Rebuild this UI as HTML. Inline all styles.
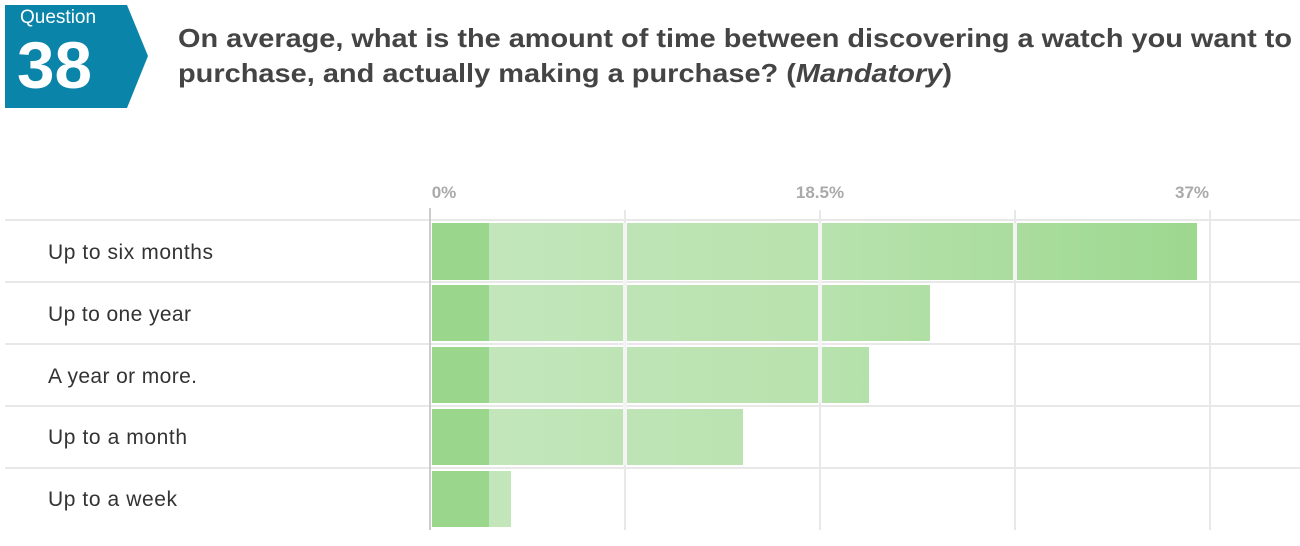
<!DOCTYPE html><html><head><style>body{margin:0;background:#fff;width:1300px;height:541px;overflow:hidden;font-family:"Liberation Sans",Arial,sans-serif}</style></head><body>
<svg width="1300" height="541" xmlns="http://www.w3.org/2000/svg" font-family="Liberation Sans, Arial, sans-serif">
<polygon points="5,5 127,5 148,56 127,108 5,108" fill="#0b84a9"/>
<text x="20" y="23" fill="#fff" font-size="19">Question</text>
<text x="17" y="88" fill="#fff" font-size="66" font-weight="bold" textLength="75" lengthAdjust="spacingAndGlyphs">38</text>
<text x="178" y="47" fill="#444" font-size="26" font-weight="bold" textLength="1114" lengthAdjust="spacingAndGlyphs">On average, what is the amount of time between discovering a watch you want to</text>
<text x="178" y="82" fill="#444" font-size="26" font-weight="bold" textLength="774" lengthAdjust="spacingAndGlyphs">purchase, and actually making a purchase? (<tspan font-style="italic">Mandatory</tspan>)</text>
<g font-size="17" fill="#aaa" font-weight="bold" text-anchor="middle">
<text x="444" y="198">0%</text><text x="820" y="198">18.5%</text><text x="1192" y="198">37%</text></g>
<g stroke="#e8e8e8" stroke-width="2">
<line x1="5" y1="220" x2="1300" y2="220"/><line x1="5" y1="282" x2="1300" y2="282"/><line x1="5" y1="344" x2="1300" y2="344"/><line x1="5" y1="406" x2="1300" y2="406"/><line x1="5" y1="468" x2="1300" y2="468"/>
<line x1="625" y1="210" x2="625" y2="530"/><line x1="820" y1="210" x2="820" y2="530"/><line x1="1015" y1="210" x2="1015" y2="530"/><line x1="1210" y1="210" x2="1210" y2="530"/></g>
<line x1="430" y1="208" x2="430" y2="530" stroke="#ccc" stroke-width="2"/>
<g>
<defs><linearGradient id="g" x1="432" x2="1197" gradientUnits="userSpaceOnUse"><stop offset="0" stop-color="#c4e7bd"/><stop offset="0.5" stop-color="#b8e2ae"/><stop offset="1" stop-color="#9dd88f"/></linearGradient></defs>
<rect x="432" y="223" width="765" height="57" fill="url(#g)"/>
<rect x="432" y="285" width="498" height="56" fill="url(#g)"/>
<rect x="432" y="347" width="437" height="56" fill="url(#g)"/>
<rect x="432" y="409" width="311" height="56" fill="url(#g)"/>
<rect x="432" y="471" width="79" height="56" fill="url(#g)"/>
<g fill="#9ad68c"><rect x="432" y="223" width="57" height="57"/><rect x="432" y="285" width="57" height="56"/><rect x="432" y="347" width="57" height="56"/><rect x="432" y="409" width="57" height="56"/><rect x="432" y="471" width="57" height="56"/></g>
<g stroke="#f4f4f4" stroke-width="4"><line x1="625" y1="223" x2="625" y2="465"/><line x1="820" y1="223" x2="820" y2="403"/><line x1="1015" y1="223" x2="1015" y2="280"/></g>
</g>
<g font-size="21" fill="#333" lengthAdjust="spacingAndGlyphs">
<text x="48" y="259" textLength="165">Up to six months</text><text x="48" y="321" textLength="143">Up to one year</text><text x="48" y="383" textLength="149">A year or more.</text><text x="48" y="444" textLength="139">Up to a month</text><text x="48" y="506" textLength="129">Up to a week</text></g>
</svg></body></html>
